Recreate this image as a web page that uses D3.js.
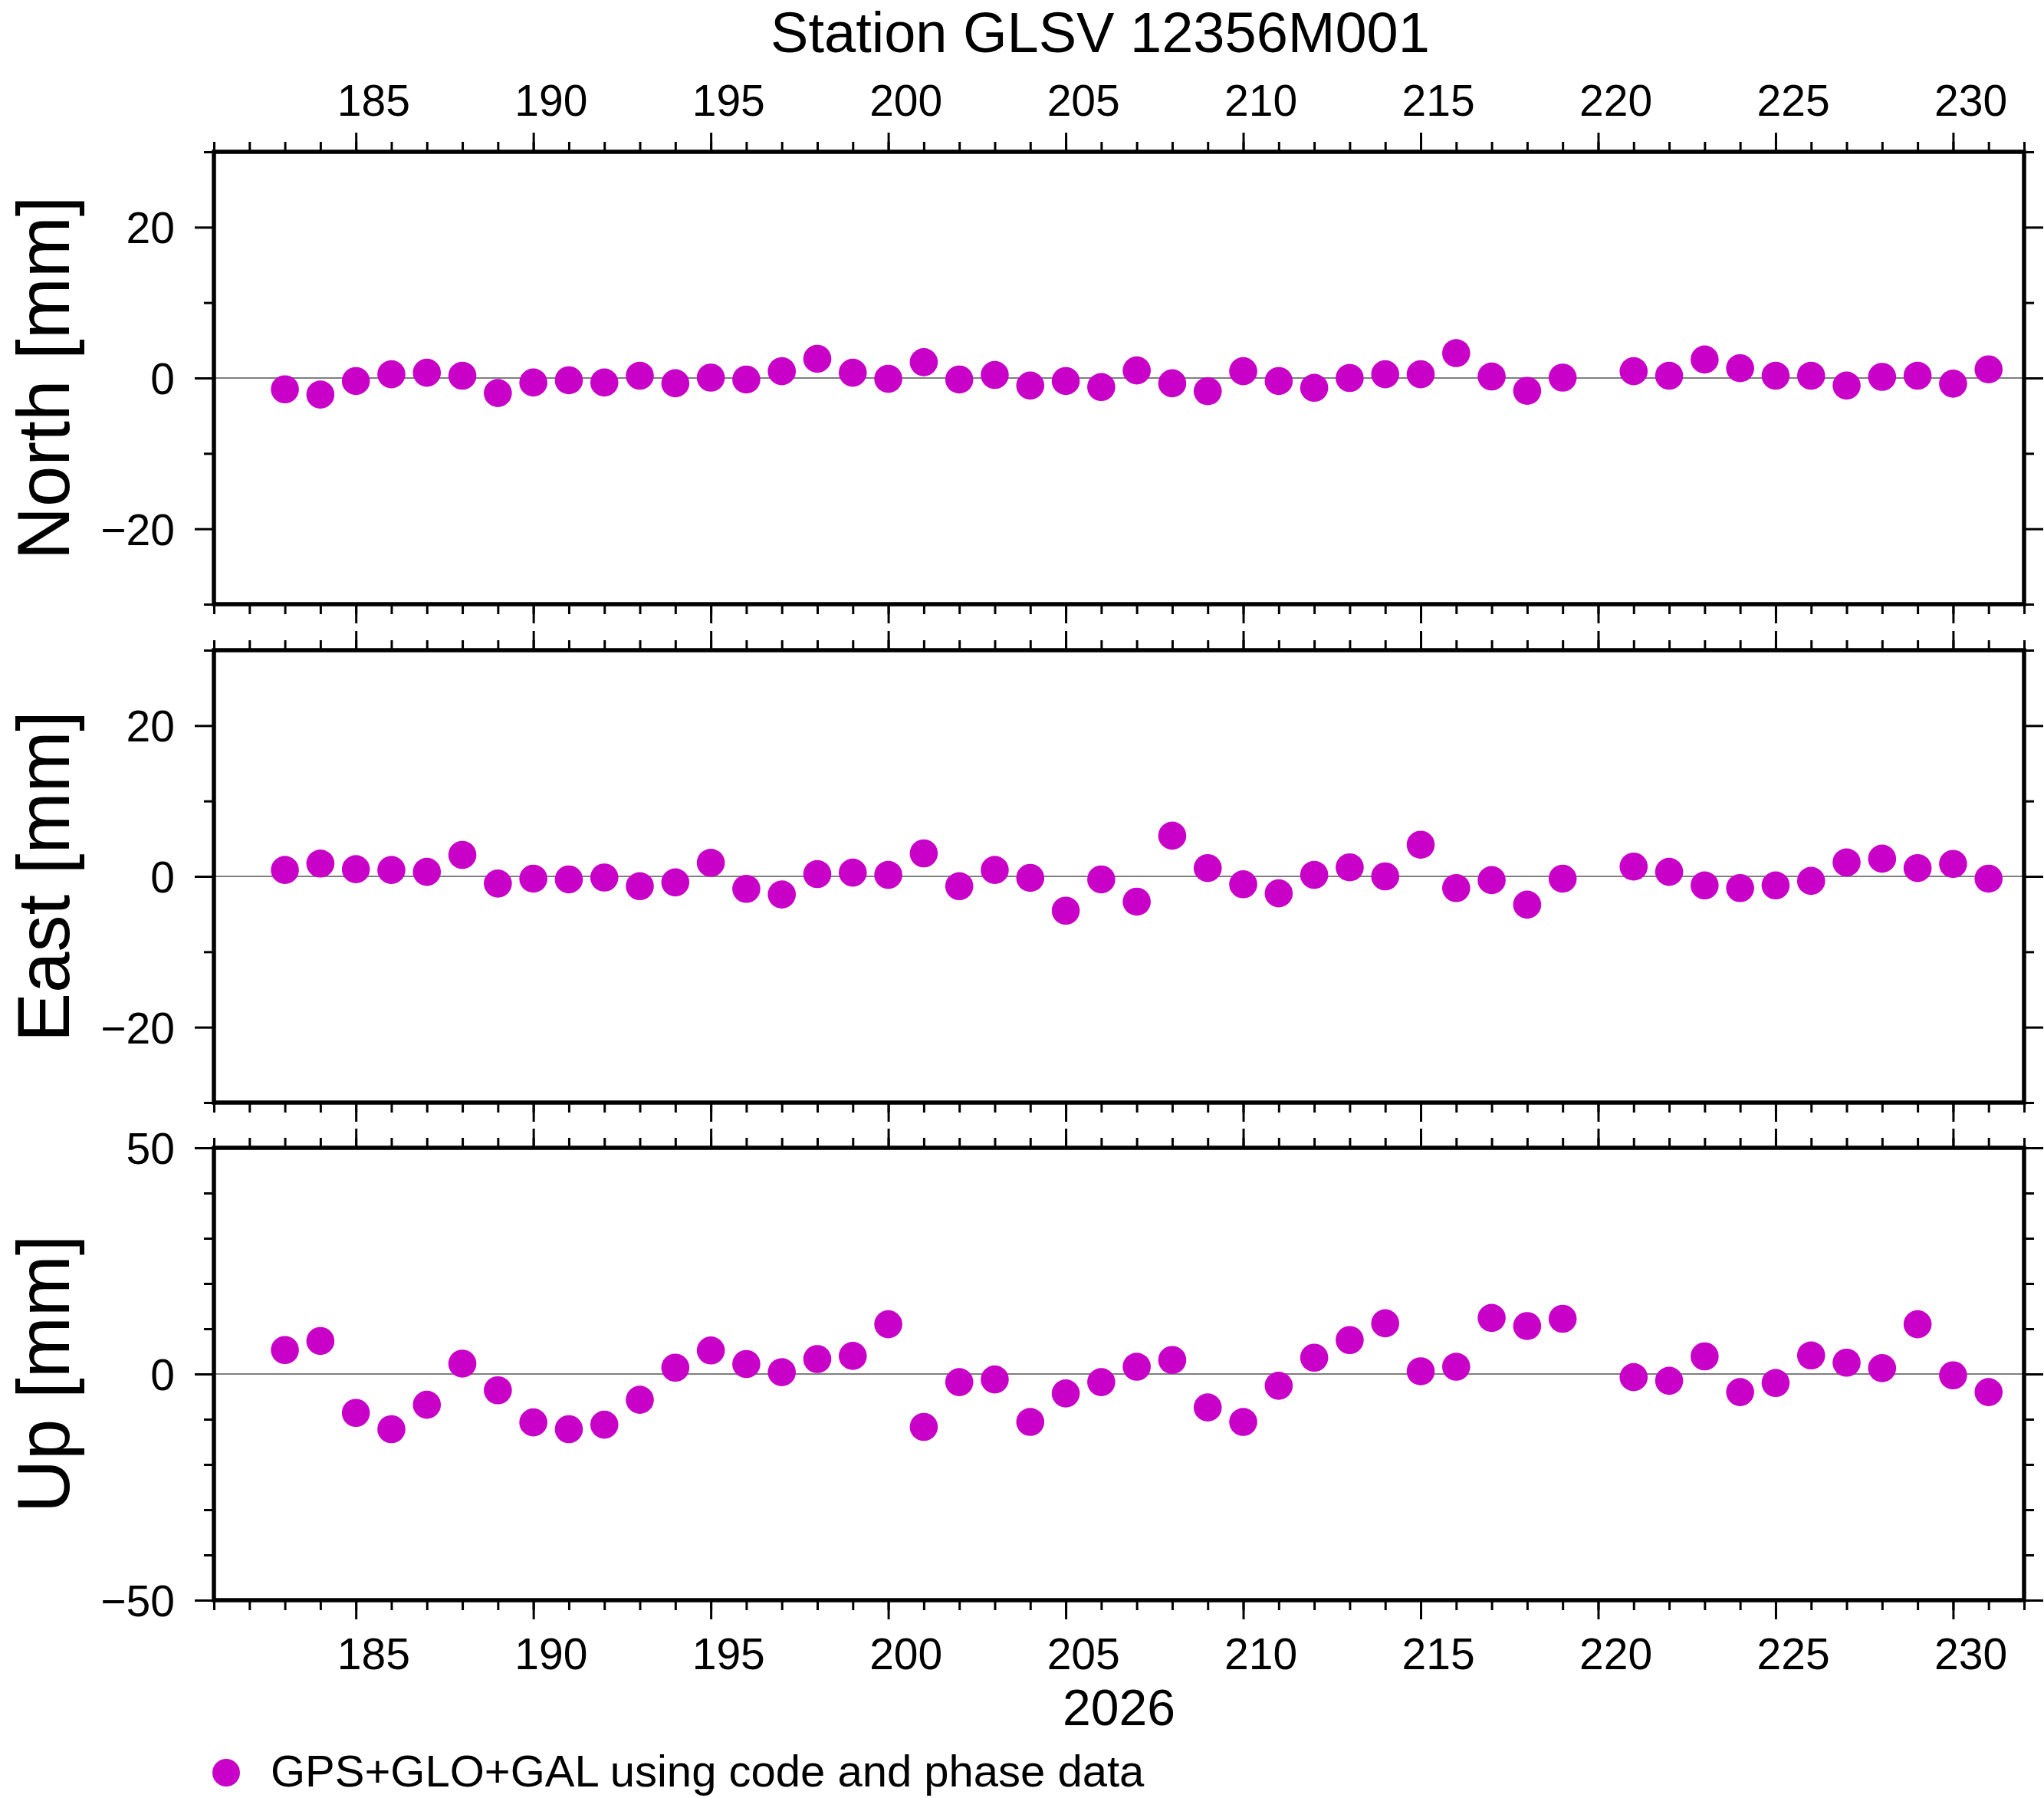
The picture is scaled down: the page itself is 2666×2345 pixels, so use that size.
<!DOCTYPE html>
<html lang="en">
  <head>
    <meta charset="utf-8" />
    <title>Station GLSV 12356M001</title>
    <script src="https://cdnjs.cloudflare.com/ajax/libs/d3/7.8.5/d3.min.js"></script>
    <style>
      body { margin: 0; background: #fff; }
    </style>
  </head>
  <body style="overflow: hidden;">
    <div id="chart"></div>
    <script>
    // day of year 2026 (no solution on day 220)
    var days = [183, 184, 185, 186, 187, 188, 189, 190, 191, 192, 193, 194, 195, 196, 197, 198, 199, 200,
                201, 202, 203, 204, 205, 206, 207, 208, 209, 210, 211, 212, 213, 214, 215, 216, 217, 218, 219,
                221, 222, 223, 224, 225, 226, 227, 228, 229, 230, 231];

    // residuals in mm
    var north = [-1.5, -2.2, -0.4, 0.5, 0.7, 0.3, -2.0, -0.6, -0.3, -0.6, 0.3, -0.7, 0.05, -0.2, 0.9, 2.55, 0.7, -0.1,
                 2.1, -0.2, 0.4, -1.0, -0.4, -1.2, 1.0, -0.7, -1.75, 0.9, -0.4, -1.3, 0.0, 0.5, 0.5, 3.3, 0.2, -1.7, 0.05,
                 0.9, 0.3, 2.45, 1.3, 0.3, 0.3, -1.0, 0.15, 0.3, -0.75, 1.15];
    var east = [0.85, 1.7, 0.95, 0.85, 0.6, 2.85, -0.95, -0.3, -0.4, -0.15, -1.3, -0.8, 1.8, -1.65, -2.4, 0.3, 0.5, 0.2,
                3.05, -1.3, 0.85, -0.2, -4.55, -0.4, -3.35, 5.4, 1.1, -1.05, -2.25, 0.2, 1.2, 0.0, 4.2, -1.55, -0.5, -3.75, -0.3,
                1.3, 0.6, -1.2, -1.55, -1.2, -0.6, 1.85, 2.35, 1.1, 1.65, -0.3];
    var up = [5.3, 7.3, -8.6, -12.2, -6.8, 2.3, -3.6, -10.7, -12.2, -11.2, -5.7, 1.4, 5.2, 2.2, 0.4, 3.3, 4.0, 11.0,
              -11.7, -1.8, -1.2, -10.6, -4.3, -1.8, 1.6, 3.1, -7.4, -10.6, -2.6, 3.6, 7.5, 11.2, 0.6, 1.6, 12.4, 10.6, 12.2,
              -0.7, -1.5, 3.9, -4.0, -2.0, 4.1, 2.5, 1.3, 11.0, -0.3, -4.0];

    var panelNames = ["North [mm]", "East [mm]", "Up [mm]"];
    var panelDomains = [[-30, 30], [-30, 30], [-50, 50]];
    var panelMajor = [[-20, 0, 20], [-20, 0, 20], [-50, 0, 50]];
    var panelMinor = [[-30, -10, 10, 30], [-30, -10, 10, 30], [-40, -30, -20, -10, 10, 20, 30, 40]];
    var panelValues = [north, east, up];

    var dayDomain = [181, 232];
    var majorDays = d3.range(185, 231, 5);
    var minorDays = d3.range(181, 233, 1);

    var title = "Station GLSV 12356M001";
    var yearLabel = "2026";
    var legendText = "GPS+GLO+GAL using code and phase data";

    var W = 2666, H = 2345;
    var left = 279, right = 2640;
    var tops = [198, 848, 1497], ph = 590;
    var dotColor = "#c800c8";
    var font = "'Liberation Sans', Arial, Helvetica, sans-serif";

    var svg = d3.select("#chart").append("svg")
        .attr("width", W)
        .attr("height", H)
        .style("font-family", font);

    svg.append("rect").attr("width", W).attr("height", H).attr("fill", "#fff");

    var x = d3.scaleLinear().domain(dayDomain).range([left, right]);

    function styleAxis(g) {
      g.select(".domain").remove();
      g.selectAll(".tick line").attr("stroke", "#000").attr("stroke-width", 3);
      g.selectAll("text").attr("font-family", font).attr("font-size", 57).attr("fill", "#000");
    }

    // day ticks, labels sit in the middle of each day
    function dayTicks(g, axisFn, withLabels, isTop) {
      g.append("g").call(axisFn(x).tickValues(minorDays).tickSize(13).tickFormat("")).call(styleAxis);
      g.append("g").call(axisFn(x).tickValues(majorDays).tickSize(25).tickFormat("")).call(styleAxis);
      if (withLabels) {
        g.selectAll("text.day")
          .data(majorDays)
          .enter()
          .append("text")
            .attr("class", "day")
            .attr("x", function(d){ return x(d + 0.5) })
            .attr("y", isTop ? -47 : 90)
            .attr("text-anchor", "middle")
            .attr("font-size", 57)
            .text(function(d){ return d });
      }
    }

    panelValues.forEach(function(vals, i) {
      var top = tops[i], bottom = tops[i] + ph;
      var y = d3.scaleLinear().domain(panelDomains[i]).range([bottom, top]);
      var p = svg.append("g");

      // zero line
      p.append("line")
        .attr("x1", left).attr("x2", right)
        .attr("y1", y(0)).attr("y2", y(0))
        .attr("stroke", "#000").attr("stroke-width", 1.2);

      // points
      p.selectAll("circle")
        .data(days)
        .enter()
        .append("circle")
          .attr("cx", function(d){ return x(d) })
          .attr("cy", function(d, j){ return y(vals[j]) })
          .attr("r", 18.3)
          .attr("fill", dotColor);

      // left axis
      var gl = p.append("g").attr("transform", "translate(" + left + ",0)");
      gl.append("g").call(d3.axisLeft(y).tickValues(panelMinor[i]).tickSize(13).tickFormat("")).call(styleAxis);
      gl.append("g").call(d3.axisLeft(y).tickValues(panelMajor[i]).tickSize(25).tickPadding(26)).call(styleAxis);
      gl.selectAll("text").attr("dy", "0.36em");

      // right axis
      var gr = p.append("g").attr("transform", "translate(" + right + ",0)");
      gr.append("g").call(d3.axisRight(y).tickValues(panelMinor[i]).tickSize(13).tickFormat("")).call(styleAxis);
      gr.append("g").call(d3.axisRight(y).tickValues(panelMajor[i]).tickSize(25).tickFormat("")).call(styleAxis);

      // top and bottom day ticks
      var gt = p.append("g").attr("transform", "translate(0," + top + ")");
      dayTicks(gt, d3.axisTop, i === 0, true);
      var gb = p.append("g").attr("transform", "translate(0," + bottom + ")");
      dayTicks(gb, d3.axisBottom, i === 2, false);

      // frame
      p.append("rect")
        .attr("x", left).attr("y", top)
        .attr("width", right - left).attr("height", ph)
        .attr("fill", "none")
        .attr("stroke", "#000")
        .attr("stroke-width", 5.5);

      // y label
      p.append("text")
        .attr("transform", "translate(90," + (top + ph / 2) + ") rotate(-90)")
        .attr("text-anchor", "middle")
        .attr("font-size", 96)
        .text(panelNames[i]);
    });

    svg.append("text")
      .attr("x", 1435).attr("y", 68)
      .attr("text-anchor", "middle")
      .attr("font-size", 74)
      .text(title);

    svg.append("text")
      .attr("x", (left + right) / 2).attr("y", 2250)
      .attr("text-anchor", "middle")
      .attr("font-size", 66)
      .text(yearLabel);

    // legend
    svg.append("circle")
      .attr("cx", 295).attr("cy", 2312).attr("r", 18)
      .attr("fill", dotColor);
    svg.append("text")
      .attr("x", 353).attr("y", 2330)
      .attr("font-size", 58)
      .text(legendText);
    </script>
  </body>
</html>
